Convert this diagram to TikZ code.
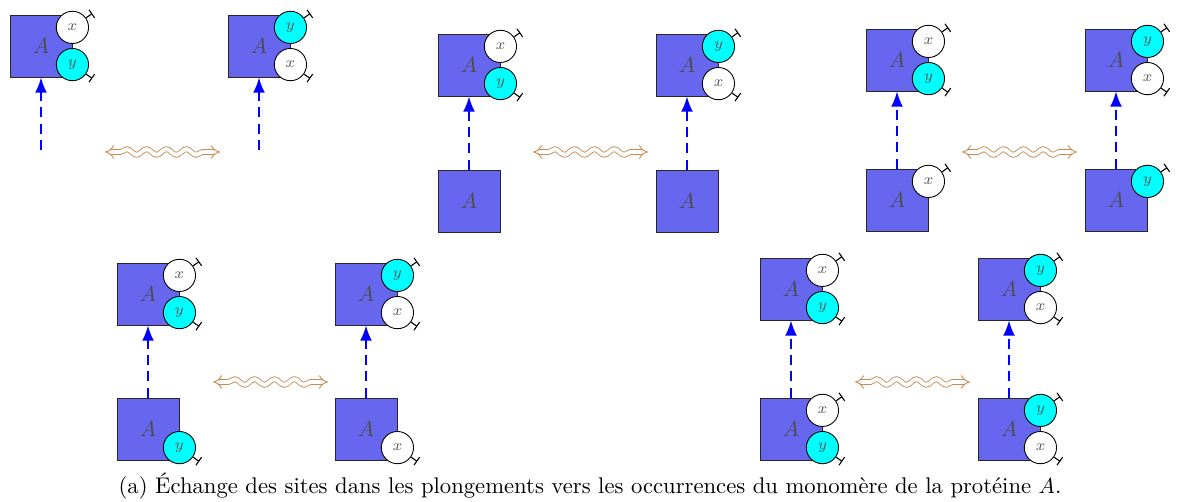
\documentclass[tikz,border=0pt]{standalone}
\usepackage{tikz}
\usetikzlibrary{arrows.meta,decorations.pathmorphing}
\definecolor{protblue}{RGB}{102,102,238}
\definecolor{siteblue}{RGB}{0,255,255}
\definecolor{swapbrown}{RGB}{198,140,84}

\begin{document}
\begin{tikzpicture}[
    x=0.01613cm, y=-0.01613cm,
    monomer/.style={rectangle, draw=black!85, fill=protblue, minimum size=1cm, inner sep=0pt, text=black!70},
    site/.style={circle, draw, minimum size=0.52cm, inner sep=0pt, font=\scriptsize, text=black!65},
    sitex/.style={site, fill=white},
    sitey/.style={site, fill=siteblue},
    sitetick/.style={-{Bar[width=4.5pt]}, line width=0.5pt},
    embedarrow/.style={-{Latex[length=7pt,width=5.5pt]}, blue, line width=0.9pt, dash pattern=on 4.5pt off 3pt},
    swaparrow/.style={{Implies[scale=1.8]}-{Implies[scale=1.8]}, swapbrown, double, line width=0.4pt, double distance=1.8pt, decorate, decoration={snake, amplitude=0.45mm, segment length=3.2mm, pre length=2.5mm, post length=2.5mm}}
]
    \useasboundingbox (0,0) rectangle (1177,502);

    \node[monomer] (top1l) at (41,46) {$A$};
    \node[sitex] (top1l-x) at ([yshift=0.3cm]top1l.east) {$x$};
    \node[sitey] (top1l-y) at ([yshift=-0.3cm]top1l.east) {$y$};
    \node[monomer] (top1r) at (259,46) {$A$};
    \node[sitey] (top1r-y) at ([yshift=0.3cm]top1r.east) {$y$};
    \node[sitex] (top1r-x) at ([yshift=-0.3cm]top1r.east) {$x$};
    \coordinate (bot1l) at (41,150);
    \coordinate (bot1r) at (259,150);
    \coordinate (swap1a) at (105,152);
    \coordinate (swap1b) at (220,152);

    \node[monomer] (top2l) at (469,65) {$A$};
    \node[sitex] (top2l-x) at ([yshift=0.3cm]top2l.east) {$x$};
    \node[sitey] (top2l-y) at ([yshift=-0.3cm]top2l.east) {$y$};
    \node[monomer] (bot2l) at (469,201) {$A$};
    \node[monomer] (top2r) at (687,65) {$A$};
    \node[sitey] (top2r-y) at ([yshift=0.3cm]top2r.east) {$y$};
    \node[sitex] (top2r-x) at ([yshift=-0.3cm]top2r.east) {$x$};
    \node[monomer] (bot2r) at (687,201) {$A$};
    \coordinate (swap2a) at (533,152);
    \coordinate (swap2b) at (648,152);

    \node[monomer] (top3l) at (897,60) {$A$};
    \node[sitex] (top3l-x) at ([yshift=0.3cm]top3l.east) {$x$};
    \node[sitey] (top3l-y) at ([yshift=-0.3cm]top3l.east) {$y$};
    \node[monomer] (bot3l) at (897,200) {$A$};
    \node[sitex] (bot3l-x) at ([yshift=0.3cm]bot3l.east) {$x$};
    \node[monomer] (top3r) at (1116,60) {$A$};
    \node[sitey] (top3r-y) at ([yshift=0.3cm]top3r.east) {$y$};
    \node[sitex] (top3r-x) at ([yshift=-0.3cm]top3r.east) {$x$};
    \node[monomer] (bot3r) at (1116,200) {$A$};
    \node[sitey] (bot3r-y) at ([yshift=0.3cm]bot3r.east) {$y$};
    \coordinate (swap3a) at (962,152);
    \coordinate (swap3b) at (1077,152);

    \node[monomer] (top4l) at (148,294) {$A$};
    \node[sitex] (top4l-x) at ([yshift=0.3cm]top4l.east) {$x$};
    \node[sitey] (top4l-y) at ([yshift=-0.3cm]top4l.east) {$y$};
    \node[monomer] (bot4l) at (148,429) {$A$};
    \node[sitey] (bot4l-y) at ([yshift=-0.3cm]bot4l.east) {$y$};
    \node[monomer] (top4r) at (366,294) {$A$};
    \node[sitey] (top4r-y) at ([yshift=0.3cm]top4r.east) {$y$};
    \node[sitex] (top4r-x) at ([yshift=-0.3cm]top4r.east) {$x$};
    \node[monomer] (bot4r) at (366,429) {$A$};
    \node[sitex] (bot4r-x) at ([yshift=-0.3cm]bot4r.east) {$x$};
    \coordinate (swap4a) at (213,382);
    \coordinate (swap4b) at (328,382);

    \node[monomer] (top5l) at (791,289) {$A$};
    \node[sitex] (top5l-x) at ([yshift=0.3cm]top5l.east) {$x$};
    \node[sitey] (top5l-y) at ([yshift=-0.3cm]top5l.east) {$y$};
    \node[monomer] (bot5l) at (791,429) {$A$};
    \node[sitex] (bot5l-x) at ([yshift=0.3cm]bot5l.east) {$x$};
    \node[sitey] (bot5l-y) at ([yshift=-0.3cm]bot5l.east) {$y$};
    \node[monomer] (top5r) at (1009,289) {$A$};
    \node[sitey] (top5r-y) at ([yshift=0.3cm]top5r.east) {$y$};
    \node[sitex] (top5r-x) at ([yshift=-0.3cm]top5r.east) {$x$};
    \node[monomer] (bot5r) at (1009,429) {$A$};
    \node[sitey] (bot5r-y) at ([yshift=0.3cm]bot5r.east) {$y$};
    \node[sitex] (bot5r-x) at ([yshift=-0.3cm]bot5r.east) {$x$};
    \coordinate (swap5a) at (855,382);
    \coordinate (swap5b) at (970,382);

    \node[font=\fontsize{10.4}{12.5}\selectfont] (caption) at (590,486) {(a) Échange des sites dans les plongements vers les occurrences du monomère de la protéine $A$.};

    \draw[sitetick] (top1l-x.35) -- ++(35:3.5pt);
    \draw[sitetick] (top1l-y.-35) -- ++(-35:3.5pt);
    \draw[sitetick] (top1r-y.35) -- ++(35:3.5pt);
    \draw[sitetick] (top1r-x.-35) -- ++(-35:3.5pt);
    \draw[sitetick] (top2l-x.35) -- ++(35:3.5pt);
    \draw[sitetick] (top2l-y.-35) -- ++(-35:3.5pt);
    \draw[sitetick] (top2r-y.35) -- ++(35:3.5pt);
    \draw[sitetick] (top2r-x.-35) -- ++(-35:3.5pt);
    \draw[sitetick] (top3l-x.35) -- ++(35:3.5pt);
    \draw[sitetick] (top3l-y.-35) -- ++(-35:3.5pt);
    \draw[sitetick] (bot3l-x.35) -- ++(35:3.5pt);
    \draw[sitetick] (top3r-y.35) -- ++(35:3.5pt);
    \draw[sitetick] (top3r-x.-35) -- ++(-35:3.5pt);
    \draw[sitetick] (bot3r-y.35) -- ++(35:3.5pt);
    \draw[sitetick] (top4l-x.35) -- ++(35:3.5pt);
    \draw[sitetick] (top4l-y.-35) -- ++(-35:3.5pt);
    \draw[sitetick] (bot4l-y.-35) -- ++(-35:3.5pt);
    \draw[sitetick] (top4r-y.35) -- ++(35:3.5pt);
    \draw[sitetick] (top4r-x.-35) -- ++(-35:3.5pt);
    \draw[sitetick] (bot4r-x.-35) -- ++(-35:3.5pt);
    \draw[sitetick] (top5l-x.35) -- ++(35:3.5pt);
    \draw[sitetick] (top5l-y.-35) -- ++(-35:3.5pt);
    \draw[sitetick] (bot5l-x.35) -- ++(35:3.5pt);
    \draw[sitetick] (bot5l-y.-35) -- ++(-35:3.5pt);
    \draw[sitetick] (top5r-y.35) -- ++(35:3.5pt);
    \draw[sitetick] (top5r-x.-35) -- ++(-35:3.5pt);
    \draw[sitetick] (bot5r-y.35) -- ++(35:3.5pt);
    \draw[sitetick] (bot5r-x.-35) -- ++(-35:3.5pt);

    \draw[embedarrow] (bot1l) -- (top1l);
    \draw[embedarrow] (bot1r) -- (top1r);
    \draw[embedarrow] (bot2l) -- (top2l);
    \draw[embedarrow] (bot2r) -- (top2r);
    \draw[embedarrow] (bot3l) -- (top3l);
    \draw[embedarrow] (bot3r) -- (top3r);
    \draw[embedarrow] (bot4l) -- (top4l);
    \draw[embedarrow] (bot4r) -- (top4r);
    \draw[embedarrow] (bot5l) -- (top5l);
    \draw[embedarrow] (bot5r) -- (top5r);

    \draw[swaparrow] (swap1a) -- (swap1b);
    \draw[swaparrow] (swap2a) -- (swap2b);
    \draw[swaparrow] (swap3a) -- (swap3b);
    \draw[swaparrow] (swap4a) -- (swap4b);
    \draw[swaparrow] (swap5a) -- (swap5b);
\end{tikzpicture}
\end{document}
